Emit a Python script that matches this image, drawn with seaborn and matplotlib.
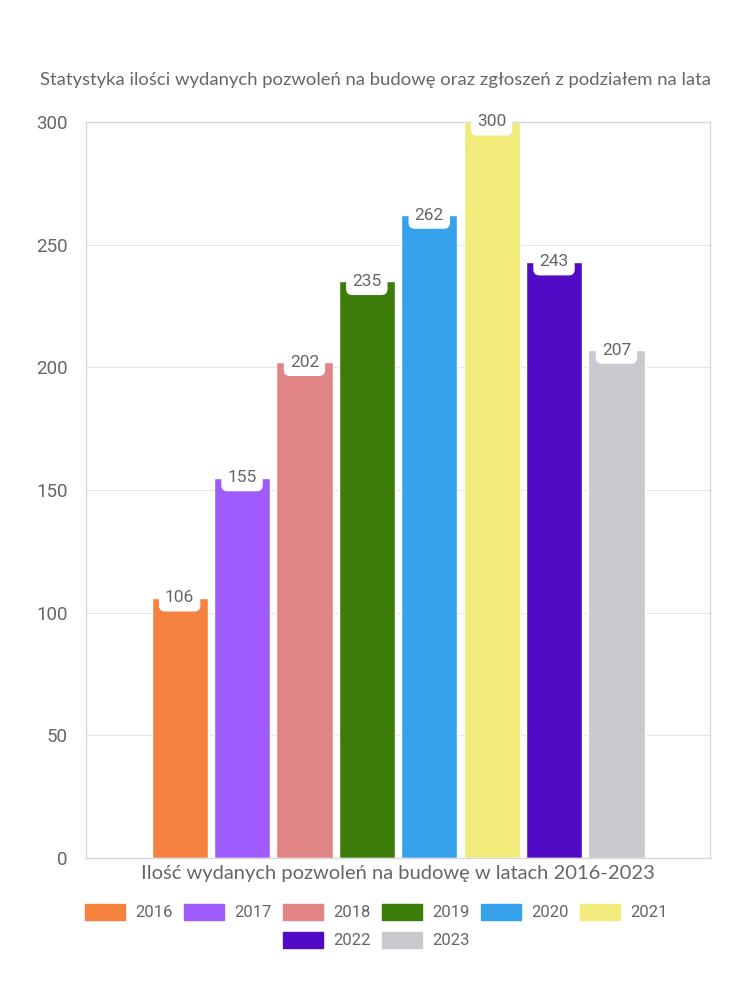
import matplotlib
matplotlib.use("Agg")
import matplotlib.pyplot as plt
import matplotlib.patches as mpatches
import seaborn as sns
import pandas as pd

years = ["2016", "2017", "2018", "2019", "2020", "2021", "2022", "2023"]
values = [106, 155, 202, 235, 262, 300, 243, 207]
colors = ["#F5833F", "#A05BFC", "#E08484", "#3C7D0A", "#36A2EB", "#F0EB7B", "#510BC4", "#C9CACF"]
title = "Statystyka ilości wydanych pozwoleń na budowę oraz zgłoszeń z podziałem na lata"
xlabel = "Ilość wydanych pozwoleń na budowę w latach 2016-2023"
yticks = [0, 50, 100, 150, 200, 250, 300]

sns.set_theme(style="white")
plt.rcParams['font.family'] = ['Roboto', 'DejaVu Sans']

df = pd.DataFrame({"group": [""] * len(years), "year": years, "value": values})

fig = plt.figure(figsize=(7.5, 10), dpi=100)
ax = fig.add_axes([0.1147, 0.142, 0.832, 0.736])

sns.barplot(data=df, x="group", y="value", hue="year", hue_order=years,
            palette=colors, saturation=1, gap=0.1, legend=False, ax=ax, errorbar=None)

ax.set_ylim(0, 300)
ax.set_xlim(-0.5, 0.5)
ax.set_yticks(yticks)
ax.set_yticklabels([str(t) for t in yticks], fontsize=13.5, color="#666666")
ax.set_xticks([])
ax.set_ylabel("")
ax.set_xlabel(xlabel, fontsize=14.5, color="#666666", family=["Lato", "DejaVu Sans"], labelpad=5)
ax.tick_params(axis="y", length=6, color="#d9d9d9", width=1, pad=7)
ax.yaxis.grid(True, color="#e6e6e6", linewidth=0.8)
ax.set_axisbelow(True)
for s in ax.spines.values():
    s.set_color("#d9d9d9")
    s.set_linewidth(1)

for cont in ax.containers:
    for bar, v in zip(cont, cont.datavalues):
        x = bar.get_x() + bar.get_width() / 2
        ax.text(x, v, f"{int(v)}", ha="center", va="center", fontsize=12.5, color="#666666",
                bbox=dict(boxstyle="round,pad=0.35,rounding_size=0.35", fc="white", ec="none"),
                zorder=5)

fig.text(0.5, 0.92, title, ha="center", va="center", fontsize=13.3, color="#666666",
         family=["Lato", "DejaVu Sans"])

handles = [mpatches.Patch(color=c, label=y) for c, y in zip(colors, years)]
leg1 = fig.legend(handles=handles[:6], loc="center", bbox_to_anchor=(0.502, 0.088), ncol=6,
                  frameon=False, fontsize=12, handlelength=2.4, handleheight=1.1,
                  handletextpad=0.6, columnspacing=0.7, labelcolor="#666666")
leg2 = fig.legend(handles=handles[6:], loc="center", bbox_to_anchor=(0.502, 0.060), ncol=2,
                  frameon=False, fontsize=12, handlelength=2.4, handleheight=1.1,
                  handletextpad=0.6, columnspacing=0.7, labelcolor="#666666")

fig.savefig("out.png", dpi=100)
